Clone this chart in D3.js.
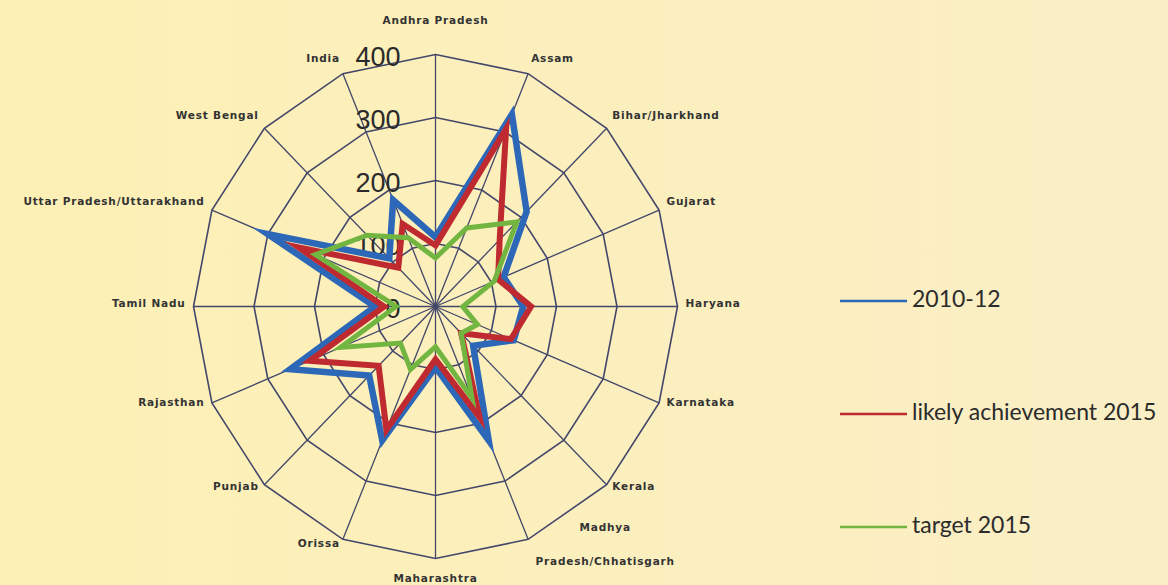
<!DOCTYPE html>
<html>
<head>
<meta charset="utf-8">
<script src="https://cdn.jsdelivr.net/npm/d3@7"></script>
<style>
  html, body { margin: 0; padding: 0; }
  body { width: 1168px; height: 585px; overflow: hidden; }
</style>
</head>
<body>
<div id="chart"></div>
<script>
// categories (clockwise from top)
const states = ["Andhra Pradesh", "Assam", "Bihar/Jharkhand", "Gujarat", "Haryana", "Karnataka",
  "Kerala", "Madhya Pradesh/Chhatisgarh", "Maharashtra", "Orissa", "Punjab", "Rajasthan",
  "Tamil Nadu", "Uttar Pradesh/Uttarakhand", "West Bengal", "India"];

// series values
const v2010 = [110, 330, 213, 122, 145, 140, 88, 230, 96, 230, 155, 260, 100, 300, 108, 183];
const vLikely = [97, 305, 150, 112, 158, 135, 60, 190, 84, 212, 133, 225, 85, 245, 87, 142];
const vTarget = [77, 135, 190, 105, 45, 75, 60, 158, 64, 108, 82, 170, 65, 215, 160, 118];

const seriesNames = ["2010-12", "likely achievement 2015", "target 2015"];
const seriesColors = ["#2d68b8", "#bf2a30", "#72b540"];
const ticks = [0, 100, 200, 300, 400];

const width = 1168, height = 585;
const cx = 435.5, cy = 306.5;

const svg = d3.select("#chart").append("svg")
  .attr("width", width)
  .attr("height", height);

// background
const grad = svg.append("defs").append("linearGradient")
  .attr("id", "bg").attr("x1", "0").attr("x2", "1").attr("y1", "0").attr("y2", "0");
grad.append("stop").attr("offset", "0").attr("stop-color", "#fdf0b5");
grad.append("stop").attr("offset", "1").attr("stop-color", "#faeec6");
svg.append("rect").attr("width", width).attr("height", height).attr("fill", "url(#bg)");

// scales (plot is a bit taller than wide)
const rx = d3.scaleLinear().domain([0, 400]).range([0, 242]);
const ry = d3.scaleLinear().domain([0, 400]).range([0, 252]);
const angle = d3.scaleBand().domain(states).range([0, 2 * Math.PI]).align(0);

const px = (s, v) => cx + rx(v) * Math.sin(angle(s));
const py = (s, v) => cy - ry(v) * Math.cos(angle(s));

const line = d3.line().x(d => d[0]).y(d => d[1]).curve(d3.curveLinearClosed);

// grid rings
const grid = svg.append("g").attr("fill", "none").attr("stroke", "#43476a").attr("stroke-width", 1.6);
grid.selectAll("path.ring")
  .data(ticks.slice(1))
  .enter().append("path")
  .attr("class", "ring")
  .attr("d", t => line(states.map(s => [px(s, t), py(s, t)])));

// spokes
grid.selectAll("line")
  .data(states)
  .enter().append("line")
  .attr("x1", cx).attr("y1", cy)
  .attr("x2", s => px(s, 400))
  .attr("y2", s => py(s, 400))
  .attr("stroke-width", 1.3);

// tick labels
svg.append("g").selectAll("text")
  .data(ticks)
  .enter().append("text")
  .attr("x", cx - 35)
  .attr("y", t => cy - ry(t) + 4)
  .attr("text-anchor", "end")
  .attr("dominant-baseline", "middle")
  .attr("font-family", "Liberation Sans, Arial, sans-serif")
  .attr("font-size", 27)
  .attr("fill", "#2a2a2a")
  .text(t => t);

// series
const allSeries = [v2010, vLikely, vTarget];
const widths = [6.5, 6, 5];
svg.append("g").selectAll("path")
  .data(allSeries)
  .enter().append("path")
  .attr("d", vals => line(states.map((s, i) => [px(s, vals[i]), py(s, vals[i])])))
  .attr("fill", "none")
  .attr("stroke", (d, i) => seriesColors[i])
  .attr("stroke-width", (d, i) => widths[i])
  .attr("stroke-linejoin", "miter")
  .attr("stroke-miterlimit", 10);

// category labels
const labels = svg.append("g")
  .attr("font-family", "DejaVu Sans, sans-serif")
  .attr("font-weight", "bold")
  .attr("font-size", 10.5)
  .attr("letter-spacing", 0.8)
  .attr("fill", "#333");

states.forEach(s => {
  const a = angle(s);
  const sn = Math.sin(a), cs = Math.cos(a);
  let x = cx + (rx(400) + 8) * sn;
  let y = cy - (ry(400) + 8) * cs - 3 - 5 * Math.max(cs, 0);
  let anchor = sn > 0.01 ? "start" : (sn < -0.01 ? "end" : "middle");
  if (Math.abs(sn) < 0.01) {
    y = cy - (ry(400) + (cs > 0 ? 34 : 20)) * cs;
  }
  const t = labels.append("text")
    .attr("x", x).attr("y", y)
    .attr("dominant-baseline", "middle")
    .attr("text-anchor", anchor);
  if (s === "Madhya Pradesh/Chhatisgarh") {
    t.attr("text-anchor", "middle");
    const mid = x + 74;
    t.append("tspan").attr("x", mid).attr("y", y - 16).text("Madhya");
    t.append("tspan").attr("x", mid).attr("y", y + 18).text("Pradesh/Chhatisgarh");
  } else {
    t.text(s);
  }
});

// legend
const legend = svg.append("g").selectAll("g")
  .data(seriesNames)
  .enter().append("g")
  .attr("transform", (d, i) => `translate(840,${301 + i * 113})`);
legend.append("line")
  .attr("x1", 0).attr("x2", 67)
  .attr("stroke", (d, i) => seriesColors[i])
  .attr("stroke-width", 2.5);
legend.append("text")
  .attr("x", 72)
  .attr("dominant-baseline", "middle")
  .attr("font-family", "Lato, sans-serif")
  .attr("font-size", 23)
  .attr("fill", "#2b2b2b")
  .text(d => d);
</script>
</body>
</html>
